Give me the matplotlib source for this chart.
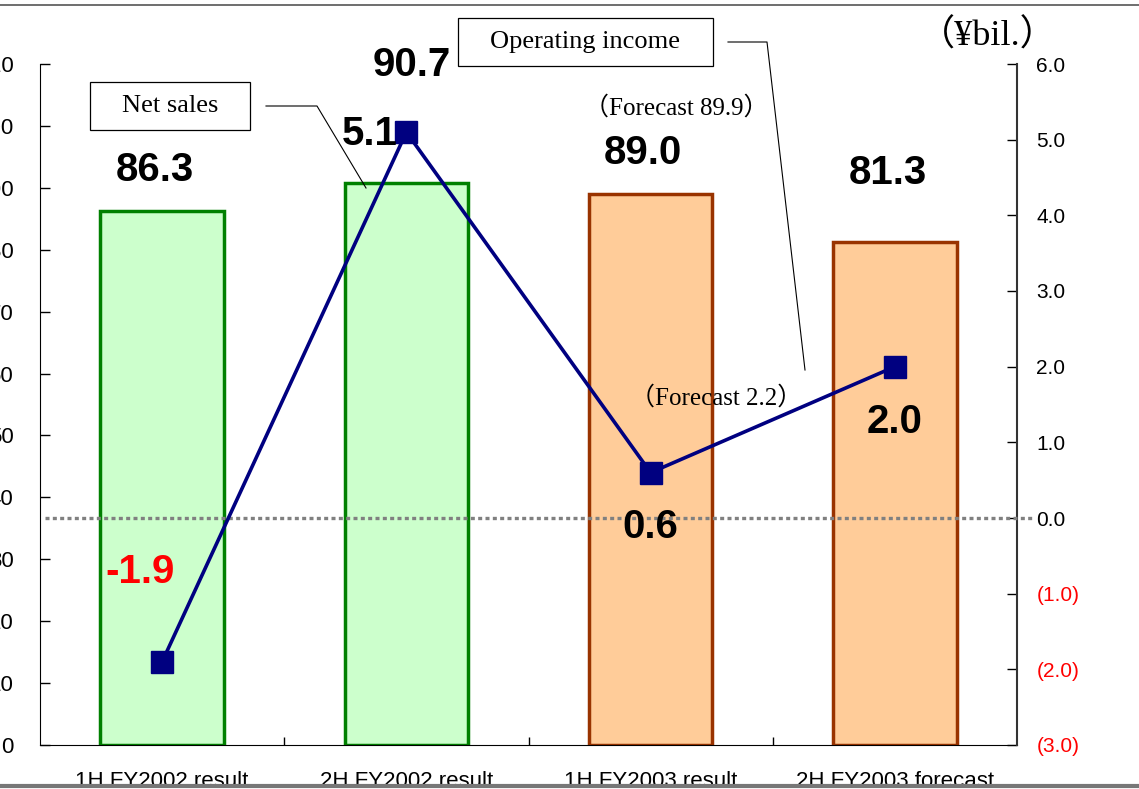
import matplotlib
matplotlib.use("Agg")
import matplotlib.pyplot as plt
from matplotlib.patches import Rectangle
from matplotlib.lines import Line2D
import numpy as np

# ---- data ----
categories = ["1H FY2002 result", "2H FY2002 result", "1H FY2003 result", "2H FY2003 forecast"]
net_sales = [86.3, 90.7, 89.0, 81.3]
op_income = [-1.9, 5.1, 0.6, 2.0]
left_ticks = [0, 10, 20, 30, 40, 50, 60, 70, 80, 90, 100, 110]
right_ticks = [-3.0, -2.0, -1.0, 0.0, 1.0, 2.0, 3.0, 4.0, 5.0, 6.0]
forecast_sales = "（Forecast 89.9）"
forecast_income = "（Forecast 2.2）"

W, H = 1139, 789
fig = plt.figure(figsize=(W / 100, H / 100), dpi=100)
fig.patch.set_facecolor("white")

def fx(px): return px / W
def fy(py): return 1 - py / H

ax1 = fig.add_axes([fx(40), fy(745), fx(1017) - fx(40), fy(64) - fy(745)])
ax2 = ax1.twinx()

x = np.arange(len(categories)) + 0.5
face = ["#CCFFCC", "#CCFFCC", "#FFCC99", "#FFCC99"]
edge = ["#008000", "#008000", "#993300", "#993300"]
ax1.bar(x, net_sales, width=0.505, color=face, edgecolor=edge, linewidth=2.5, zorder=2)
ax1.set_xlim(0, 4)
ax1.set_ylim(0, 110)
ax1.set_yticks(left_ticks)
ax1.set_yticklabels([str(v) for v in left_ticks])

ax1.set_xticks(x)
ax1.set_xticklabels(categories, fontsize=16, family="Liberation Sans")
ax1.set_xticks([1, 2, 3], minor=True)
ax1.tick_params(axis="x", which="major", length=0, pad=19)
ax1.tick_params(axis="x", which="minor", direction="in", length=6, width=1)
ax1.tick_params(axis="y", direction="in", length=7, width=1, pad=19, labelsize=16)
for lab in ax1.get_yticklabels():
    lab.set_family("Liberation Sans")
ax1.spines["top"].set_visible(False)
ax1.spines["right"].set_visible(False)

# right axis (operating income)
ax2.set_ylim(-3, 6)
ax2.set_yticks(right_ticks)
ax2.set_yticklabels([f"{v:.1f}" if v >= 0 else f"({abs(v):.1f})" for v in right_ticks])
ax2.tick_params(axis="y", direction="in", length=7, width=1, pad=14, labelsize=15)
for v, lab in zip(right_ticks, ax2.get_yticklabels()):
    lab.set_family("Liberation Sans")
    lab.set_color("red" if v < 0 else "black")
for s in ["top", "left", "bottom"]:
    ax2.spines[s].set_visible(False)
ax2.spines["right"].set_color("#333333")
ax2.spines["right"].set_linewidth(1.5)

# dotted zero line
ax2.plot([0.005, 1.018], [0, 0], transform=ax2.get_yaxis_transform(), color="#808080",
         linestyle=(0, (1.2, 1.0)), linewidth=2.4, clip_on=False, zorder=3)

ax2.plot(x, op_income, color="#000080", linewidth=2.6, marker="s", markersize=16,
         markerfacecolor="#000080", markeredgecolor="#000080", zorder=4)

# value labels
big = dict(fontsize=29, fontweight="bold", family="Liberation Sans", ha="center", va="center")
sales_pos = [(-0.03, 92.9), (0.02, 109.8), (-0.03, 95.6), (-0.03, 92.4)]
for xi, v, (dx, yy) in zip(x, net_sales, sales_pos):
    ax1.text(xi + dx, yy, f"{v:.1f}", **big)
inc_pos = [(-0.09, -0.72), (-0.15, 5.07), (0.0, -0.12), (0.0, 1.27)]
for xi, v, (dx, yy) in zip(x, op_income, inc_pos):
    ax2.text(xi + dx, yy, f"{v:.1f}", color="red" if v < 0 else "black", zorder=5, **big)

serif = ["Liberation Serif", "Noto Sans CJK JP"]

# callout boxes
def box(x0, y0, x1, y1, label):
    fig.add_artist(Rectangle((fx(x0), fy(y1)), fx(x1) - fx(x0), fy(y0) - fy(y1),
                             transform=fig.transFigure, facecolor="white",
                             edgecolor="black", linewidth=0.9, zorder=6))
    fig.text(fx((x0 + x1) / 2), fy((y0 + y1) / 2), label, fontsize=19, family=serif,
             ha="center", va="center", zorder=7)

def leader(pts):
    xs = [fx(p[0]) for p in pts]
    ys = [fy(p[1]) for p in pts]
    fig.add_artist(Line2D(xs, ys, transform=fig.transFigure, color="black", linewidth=0.8, zorder=6))

box(90, 82, 250, 130, "Net sales")
leader([(266, 106), (317, 106), (366, 188)])
box(458, 18, 713, 66, "Operating income")
leader([(728, 42), (767, 42), (805, 370)])

fig.text(fx(676), fy(108), forecast_sales, fontsize=18, family=serif, ha="center", va="center")
fig.text(fx(716), fy(398), forecast_income, fontsize=18, family=serif, ha="center", va="center")
fig.text(fx(988), fy(36), "（¥bil.）", fontsize=26, family=serif, ha="center", va="center")

# frame lines at top and bottom
fig.add_artist(Line2D([0, 1], [fy(5), fy(5)], transform=fig.transFigure, color="#555555", linewidth=1.2))
fig.add_artist(Line2D([0, 1], [fy(786), fy(786)], transform=fig.transFigure, color="#777777", linewidth=3))

fig.savefig("out.png", dpi=100)
